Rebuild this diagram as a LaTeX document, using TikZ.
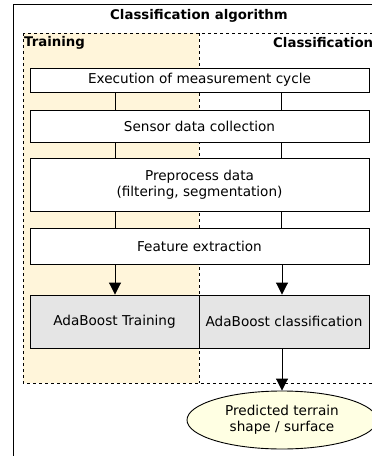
\documentclass[tikz,border=0pt]{standalone}
\usepackage{fontspec}
\setmainfont{DejaVu Sans}
\usetikzlibrary{arrows.meta,shapes.geometric}
\definecolor{trainfill}{HTML}{FFF5DA}
\definecolor{adagray}{HTML}{E5E5E5}
\definecolor{ellfill}{HTML}{FFFFE3}
\begin{document}
\begin{tikzpicture}[x=1pt,y=-1pt,
  box/.style={draw, line width=0.9pt, minimum width=339pt, inner sep=0pt, align=center, font=\fontsize{13.6}{16}\selectfont},
  adabox/.style={draw, line width=0.9pt, fill=adagray, inner sep=0pt, minimum height=53pt, font=\fontsize{13.6}{16}\selectfont},
  conn/.style={line width=0.9pt},
  arr/.style={line width=0.9pt, -{Triangle[width=12pt,length=12pt]}},
  hdr/.style={font=\bfseries\fontsize{13.3}{15}\selectfont, inner sep=0pt}]
\useasboundingbox (0,0) rectangle (372,456);
\clip (0,0) rectangle (372,456);
\draw[line width=0.9pt] (13,4) rectangle (390,480);
\fill[trainfill] (23,33) rectangle (199,383);
\draw[dashed, line width=0.7pt] (23,33) rectangle (400,383);
\draw[dashed, line width=0.7pt] (199,33) -- (199,383);
\node[hdr] (title) at (199,16) {Classification algorithm};
\node[hdr, anchor=west] (trn) at (24,43) {Training};
\node[hdr, anchor=west] (cls) at (273,43) {Classification};
\coordinate (cl) at (115,0);
\coordinate (cr) at (281,0);
\node[box, fill=white, minimum height=24pt] (b1) at (199.5,80) {Execution of measurement cycle};
\node[box, fill=white, minimum height=32pt] (b2) at (199.5,126) {Sensor data collection};
\node[box, fill=white, minimum height=53pt] (b3) at (199.5,184.5) {Preprocess data\\(filtering, segmentation)};
\node[box, fill=white, minimum height=36pt] (b4) at (199.5,246) {Feature extraction};
\node[adabox, minimum width=169pt] (adaL) at (114.5,321.5) {AdaBoost Training};
\node[adabox, minimum width=170pt] (adaR) at (284,321.5) {AdaBoost classification};
\node[ellipse, draw, line width=0.9pt, fill=ellfill, minimum width=190pt, minimum height=58pt, inner sep=0pt, align=center, font=\fontsize{13.6}{16}\selectfont] (ell) at (282,420) {Predicted terrain\\shape / surface};
\draw[conn] (b1.south -| cl) -- (b2.north -| cl);
\draw[conn] (b1.south -| cr) -- (b2.north -| cr);
\draw[conn] (b2.south -| cl) -- (b3.north -| cl);
\draw[conn] (b2.south -| cr) -- (b3.north -| cr);
\draw[conn] (b3.south -| cl) -- (b4.north -| cl);
\draw[conn] (b3.south -| cr) -- (b4.north -| cr);
\draw[arr] (b4.south -| cl) -- (adaL.north -| cl);
\draw[arr] (b4.south -| ell) -- (adaR.north -| ell);
\draw[arr] (adaR.south -| ell) -- (ell.north);
\end{tikzpicture}
\end{document}
